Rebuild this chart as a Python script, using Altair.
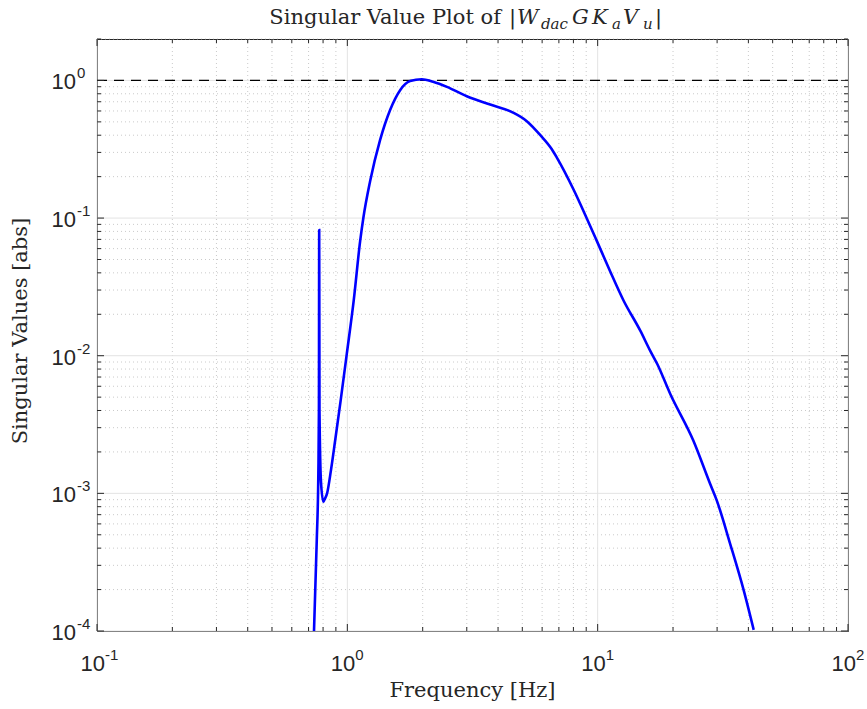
import altair as alt
import pandas as pd

# ---------------- data ----------------
freq_hz = [0.736, 0.755, 0.766, 0.770, 0.772, 0.774, 0.785, 0.802, 0.81, 0.83,
           0.86, 0.894, 0.94, 0.995, 1.06, 1.125, 1.159, 1.233, 1.352, 1.482,
           1.625, 1.781, 1.984, 2.20, 2.50, 3.00, 3.72, 4.59, 5.21, 5.89,
           6.56, 6.87, 8.0, 9.06, 9.93, 11.2, 12.7, 14.8, 16.2, 17.3,
           19.5, 24.1, 28.1, 29.9, 33.8, 38.3, 42.0]
sing_val = [1.0e-4, 4.6e-4, 1.4e-3, 4.0e-3, 0.082, 4.0e-3, 1.2e-3, 8.7e-4, 9.0e-4, 1.0e-3,
            1.47e-3, 2.42e-3, 4.7e-3, 0.0103, 0.025, 0.068, 0.1005, 0.185, 0.37, 0.61,
            0.85, 0.99, 1.02, 0.977, 0.898, 0.767, 0.668, 0.584, 0.506, 0.402,
            0.316, 0.275, 0.162, 0.099, 0.068, 0.0413, 0.0251, 0.0152, 0.0109, 0.0087,
            0.00527, 0.00242, 0.00118, 0.00089, 0.000432, 0.000198, 0.000102]
ref_level = [1.0]

x_major = [0.1, 1, 10, 100]
x_exp = ["-1", "0", "1", "2"]
y_major = [1e-4, 1e-3, 1e-2, 1e-1, 1]
y_exp = ["-4", "-3", "-2", "-1", "0"]
x_minor = [m * d for d in [0.1, 1, 10] for m in range(2, 10)]
y_minor = [m * d for d in [1e-4, 1e-3, 1e-2, 1e-1] for m in range(2, 10)] + [2.0]

title_main = "Singular Value Plot of"
xlabel = "Frequency [Hz]"
ylabel = "Singular Values [abs]"

W, H = 751, 592
xs = alt.Scale(type="log", domain=[0.1, 100], nice=False)
ys = alt.Scale(type="log", domain=[1e-4, 2], nice=False)

curve = pd.DataFrame({"f": freq_hz, "s": sing_val, "i": range(len(freq_hz))})
xmaj = pd.DataFrame({"v": x_major, "e": x_exp})
ymaj = pd.DataFrame({"v": y_major, "e": y_exp})
xmin_df = pd.DataFrame({"v": x_minor})
ymin_df = pd.DataFrame({"v": [v for v in y_minor if v <= 2]})
ref_df = pd.DataFrame({"v": ref_level})

GRID_MAJ = "#e3e3e3"
GRID_MIN = "#bdbdbd"
AX = "#262626"
SANS = "Liberation Sans"
SERIF = "DejaVu Serif"

layers = []
# minor grids (dotted)
layers.append(alt.Chart(xmin_df).mark_rule(color=GRID_MIN, strokeWidth=0.8, strokeDash=[1, 3]).encode(
    x=alt.X("v:Q", scale=xs, axis=None), y=alt.value(0), y2=alt.value(H)))
layers.append(alt.Chart(ymin_df).mark_rule(color=GRID_MIN, strokeWidth=0.8, strokeDash=[1, 3]).encode(
    y=alt.Y("v:Q", scale=ys, axis=None), x=alt.value(0), x2=alt.value(W)))
# major grids (solid)
layers.append(alt.Chart(xmaj).mark_rule(color=GRID_MAJ, strokeWidth=1).encode(
    x=alt.X("v:Q", scale=xs, axis=None), y=alt.value(0), y2=alt.value(H)))
layers.append(alt.Chart(ymaj).mark_rule(color=GRID_MAJ, strokeWidth=1).encode(
    y=alt.Y("v:Q", scale=ys, axis=None), x=alt.value(0), x2=alt.value(W)))
# reference dashed line
layers.append(alt.Chart(ref_df).mark_rule(color="black", strokeWidth=1.2, strokeDash=[10, 7]).encode(
    y=alt.Y("v:Q", scale=ys, axis=None), x=alt.value(0), x2=alt.value(W)))
# main curve
layers.append(alt.Chart(curve).mark_line(color="#0000ff", strokeWidth=2.6, clip=True,
                                         interpolate="monotone").encode(
    x=alt.X("f:Q", scale=xs, axis=None), y=alt.Y("s:Q", scale=ys, axis=None), order="i:Q"))

# ticks (inward, all four sides)
MAJ, MIN = 7, 4
for df, ln in [(xmaj, MAJ), (xmin_df, MIN)]:
    layers.append(alt.Chart(df).mark_rule(color=AX, strokeWidth=1).encode(
        x=alt.X("v:Q", scale=xs, axis=None), y=alt.value(H), y2=alt.value(H - ln)))
    layers.append(alt.Chart(df).mark_rule(color=AX, strokeWidth=1).encode(
        x=alt.X("v:Q", scale=xs, axis=None), y=alt.value(0), y2=alt.value(ln)))
for df, ln in [(ymaj, MAJ), (ymin_df, MIN)]:
    layers.append(alt.Chart(df).mark_rule(color=AX, strokeWidth=1).encode(
        y=alt.Y("v:Q", scale=ys, axis=None), x=alt.value(0), x2=alt.value(ln)))
    layers.append(alt.Chart(df).mark_rule(color=AX, strokeWidth=1).encode(
        y=alt.Y("v:Q", scale=ys, axis=None), x=alt.value(W), x2=alt.value(W - ln)))

# tick labels
layers.append(alt.Chart(xmaj).mark_text(font=SANS, fontSize=22, color=AX, align="right", baseline="middle", dx=8).encode(
    x=alt.X("v:Q", scale=xs, axis=None), y=alt.value(H + 33), text=alt.value("10")))
layers.append(alt.Chart(xmaj).mark_text(font=SANS, fontSize=15, color=AX, align="left", baseline="middle", dx=8, dy=-9).encode(
    x=alt.X("v:Q", scale=xs, axis=None), y=alt.value(H + 33), text="e:N"))
layers.append(alt.Chart(ymaj).mark_text(font=SANS, fontSize=22, color=AX, align="right", baseline="middle", dy=2).encode(
    y=alt.Y("v:Q", scale=ys, axis=None), x=alt.value(-21), text=alt.value("10")))
layers.append(alt.Chart(ymaj).mark_text(font=SANS, fontSize=15, color=AX, align="left", baseline="middle", dy=-7).encode(
    y=alt.Y("v:Q", scale=ys, axis=None), x=alt.value(-20), text="e:N"))

# axis titles
layers.append(alt.Chart(ref_df).mark_text(font=SERIF, fontSize=21, color=AX, align="center", baseline="middle").encode(
    x=alt.value(W / 2), y=alt.value(H + 60), text=alt.value(xlabel)))
layers.append(alt.Chart(ref_df).mark_text(font=SERIF, fontSize=21, color=AX, align="center", baseline="middle", angle=270).encode(
    x=alt.value(-76), y=alt.value(H / 2 - 4), text=alt.value(ylabel)))

# title pieces
TY = -15
pieces = [
    (title_main, 404, 21, "normal", 0, "right"),
    ("|", 412, 21, "normal", 0, "left"),
    ("W", 420, 21, "italic", 0, "left"),
    ("dac", 444, 15, "italic", 5, "left"),
    ("G", 475, 21, "italic", 0, "left"),
    ("K", 495, 21, "italic", 0, "left"),
    ("a", 515, 15, "italic", 5, "left"),
    ("V", 526, 21, "italic", 0, "left"),
    ("u", 546, 15, "italic", 5, "left"),
    ("|", 558, 21, "normal", 0, "left"),
]
for txt, px, fs, st, dy, al in pieces:
    layers.append(alt.Chart(ref_df).mark_text(font=SERIF, fontSize=fs, fontStyle=st, color=AX,
                                             align=al, baseline="alphabetic", dy=dy).encode(
        x=alt.value(px), y=alt.value(TY), text=alt.value(txt)))

chart = alt.layer(*layers).properties(
    width=W, height=H,
    autosize=alt.AutoSizeParams(type="none"),
    padding={"left": 97, "top": 39, "right": 19, "bottom": 78},
    background="white",
).configure_view(stroke=AX, strokeWidth=1)

chart.save("out.html", embed_options={"renderer": "svg", "actions": False})
